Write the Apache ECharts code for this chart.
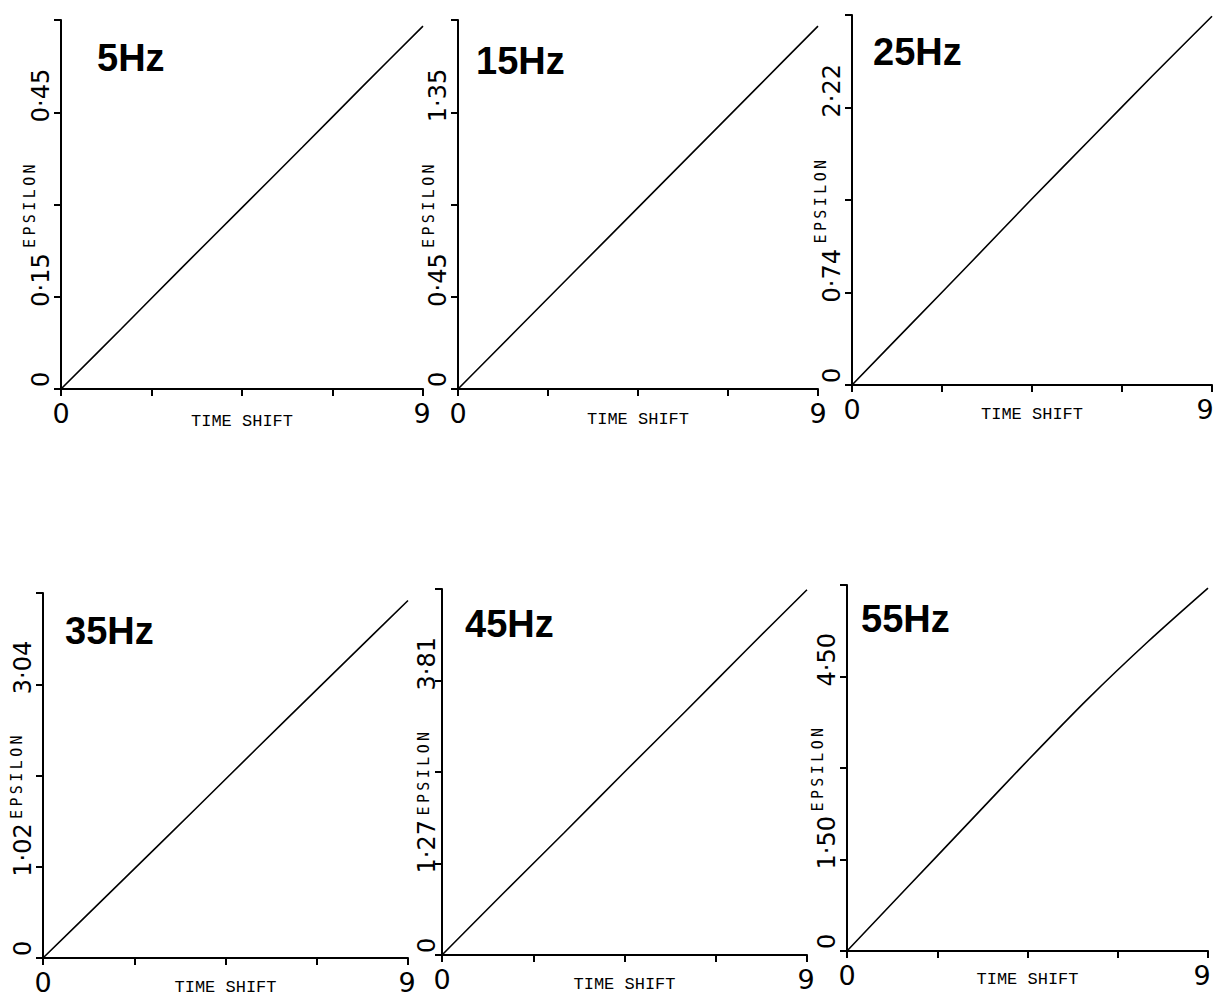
<!DOCTYPE html>
<html>
<head>
<meta charset="utf-8">
<script src="https://cdn.jsdelivr.net/npm/echarts@6/dist/echarts.min.js"></script>
<style>
  html, body { margin: 0; padding: 0; background: #fff; }
  #chart { width: 1214px; height: 999px; }
  /* widely spaced plotter lettering for the vertical axis name */
  #chart text[style*="Sans Mono"] { letter-spacing: 3.4px; }
</style>
</head>
<body>
<div id="chart"></div>
<script>
// Epsilon against time shift for six source frequencies
const panelTitles = ['5Hz', '15Hz', '25Hz', '35Hz', '45Hz', '55Hz'];
const timeShift = [0, 1.5, 3, 4.5, 6, 7.5, 9];

const eps5Hz  = [0, 0.098, 0.197, 0.295, 0.393, 0.492, 0.59];
const eps15Hz = [0, 0.295, 0.59, 0.885, 1.18, 1.475, 1.77];
const eps25Hz = [0, 0.495, 0.99, 1.49, 1.98, 2.47, 2.95];
const eps35Hz = [0, 0.66, 1.32, 1.985, 2.65, 3.31, 3.97];
const eps45Hz = [0, 0.85, 1.69, 2.54, 3.38, 4.23, 5.07];
const eps55Hz = [0, 1.04, 2.08, 3.12, 4.13, 5.07, 5.95];

// y-axis tick spacing and the printed tick labels (every other tick labelled)
const yStep = [0.15, 0.45, 0.74, 1.0133, 1.27, 1.50];
const yTickLabels = [
  ['0', '0·15', '', '0·45', ''],
  ['0', '0·45', '', '1·35', ''],
  ['0', '0·74', '', '2·22', ''],
  ['0', '1·02', '', '3·04', ''],
  ['0', '1·27', '', '3·81', ''],
  ['0', '1·50', '', '4·50', '']
];
const xTickLabels = ['0', '', '', '', '9'];
const xName = 'TIME SHIFT';
const yName = 'EPSILON';

const seriesData = [eps5Hz, eps15Hz, eps25Hz, eps35Hz, eps45Hz, eps55Hz];

// panel placement (pixels)
const gridBox = [
  { left: 61,  top: 20,  width: 362, height: 369 },
  { left: 458, top: 20,  width: 360, height: 369 },
  { left: 852, top: 15,  width: 360, height: 370 },
  { left: 43,  top: 593, width: 365, height: 365 },
  { left: 442, top: 589, width: 365, height: 366 },
  { left: 847, top: 585, width: 361, height: 366 }
];
const titlePos = [
  { left: 97,  top: 39 },
  { left: 476, top: 42 },
  { left: 873, top: 33 },
  { left: 65,  top: 612 },
  { left: 465, top: 605 },
  { left: 861, top: 600 }
];
const yNameGap = [24, 22, 24, 19, 11, 22];
const xNameGap = [24, 22, 21, 21, 21, 20];
const yLabelMargin = [8, 8, 8, 8, 3, 8];
const lastXLabelShift = [2, 0, 14, 2, 2, 12];

const ink = '#000';
const tickFont = "'DejaVu Sans', sans-serif";
const xLabelFont = "'DejaVu Sans', sans-serif";

const option = {
  backgroundColor: '#fff',
  animation: false,
  title: panelTitles.map((t, i) => ({
    text: t,
    left: titlePos[i].left,
    top: titlePos[i].top,
    padding: 0,
    textStyle: { fontFamily: "'Liberation Sans', Arial, sans-serif", fontWeight: 'bold', fontSize: 38, color: ink }
  })),
  grid: gridBox.map(g => Object.assign({ outerBoundsMode: 'none', containLabel: false }, g)),
  xAxis: panelTitles.map((t, i) => ({
    gridIndex: i,
    type: 'value',
    min: 0,
    max: 9,
    interval: 2.25,
    name: xName,
    nameLocation: 'middle',
    nameGap: xNameGap[i],
    nameMoveOverlap: false,
    nameTextStyle: { fontFamily: "'Liberation Mono', monospace", fontSize: 17, color: ink },
    axisLine: { show: true, lineStyle: { color: ink, width: 2 } },
    axisTick: { show: true, length: 7, lineStyle: { color: ink, width: 2 } },
    splitLine: { show: false },
    axisLabel: {
      show: true,
      margin: 11,
      fontFamily: xLabelFont,
      fontSize: 27,
      color: ink,
      showMinLabel: true,
      showMaxLabel: true,
      formatter: (v, idx) => {
        const s = xTickLabels[idx] || '';
        return idx === xTickLabels.length - 1 ? '{e|' + s + '}' : s;
      },
      rich: {
        e: { fontFamily: xLabelFont, fontSize: 27, color: ink, padding: [0, lastXLabelShift[i], 0, 0] }
      }
    }
  })),
  yAxis: panelTitles.map((t, i) => ({
    gridIndex: i,
    type: 'value',
    min: 0,
    max: yStep[i] * 4,
    interval: yStep[i],
    name: yName,
    nameLocation: 'middle',
    nameGap: yNameGap[i],
    nameMoveOverlap: false,
    nameTextStyle: { fontFamily: "'DejaVu Sans Mono', monospace", fontSize: 15, color: ink },
    axisLine: { show: true, lineStyle: { color: ink, width: 2 } },
    axisTick: { show: true, length: 7, lineStyle: { color: ink, width: 2 } },
    splitLine: { show: false },
    axisLabel: {
      show: true,
      rotate: 90,
      align: 'left',
      margin: yLabelMargin[i],
      padding: [0, 0, 0, -10],
      fontFamily: tickFont,
      fontSize: 24,
      color: ink,
      showMinLabel: true,
      showMaxLabel: true,
      formatter: (v, idx) => {
        const s = yTickLabels[i][idx] || '';
        return idx === 0 ? '{z|' + s + '}' : s;
      },
      rich: {
        z: { fontFamily: tickFont, fontSize: 24, color: ink, padding: [0, 0, 0, 12] }
      }
    }
  })),
  series: seriesData.map((vals, i) => ({
    type: 'line',
    name: panelTitles[i],
    xAxisIndex: i,
    yAxisIndex: i,
    data: timeShift.map((x, k) => [x, vals[k]]),
    showSymbol: false,
    smooth: 0.3,
    silent: true,
    lineStyle: { color: ink, width: 1.6 }
  }))
};

const chart = echarts.init(document.getElementById('chart'), null, { renderer: 'svg', width: 1214, height: 999 });
chart.setOption(option);
</script>
</body>
</html>
